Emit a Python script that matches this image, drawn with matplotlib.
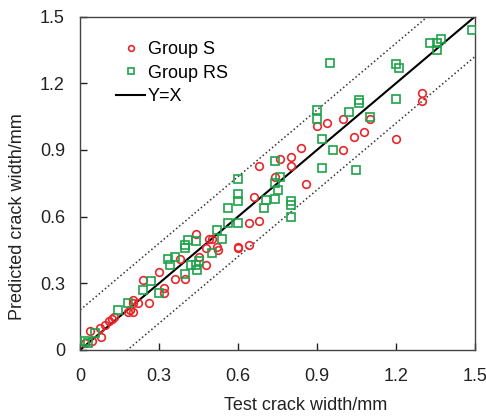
import matplotlib
matplotlib.use("Agg")
import matplotlib.pyplot as plt
import numpy as np

plt.rcParams['font.family'] = ['Liberation Sans', 'DejaVu Sans']

s_x = [0.02, 0.045, 0.038, 0.08, 0.076, 0.095, 0.11, 0.12, 0.13, 0.18, 0.19, 0.2, 0.2, 0.2, 0.22,
       0.24, 0.26, 0.3, 0.32, 0.32, 0.36, 0.38, 0.4, 0.44, 0.45, 0.48, 0.48, 0.49, 0.5, 0.52,
       0.525, 0.6, 0.6, 0.64, 0.64, 0.66, 0.68, 0.68, 0.74, 0.76, 0.8, 0.8, 0.84, 0.86, 0.9,
       0.94, 1.0, 1.0, 1.04, 1.08, 1.1, 1.2, 1.3, 1.3]
s_y = [0.03, 0.04, 0.083, 0.06, 0.1, 0.11, 0.13, 0.14, 0.15, 0.17, 0.18, 0.17, 0.225, 0.21, 0.21,
       0.315, 0.21, 0.35, 0.28, 0.255, 0.32, 0.41, 0.32, 0.52, 0.42, 0.38, 0.46, 0.5, 0.5, 0.465,
       0.45, 0.465, 0.46, 0.57, 0.47, 0.69, 0.58, 0.83, 0.78, 0.86, 0.87, 0.83, 0.91, 0.745, 1.01,
       1.02, 0.9, 1.04, 0.96, 0.98, 1.04, 0.95, 1.155, 1.12]

rs_x = [0.02, 0.03, 0.057, 0.145, 0.18, 0.24, 0.27, 0.3, 0.335, 0.34, 0.36, 0.4, 0.4, 0.41, 0.4,
        0.42, 0.44, 0.44, 0.445, 0.45, 0.5, 0.52, 0.54, 0.56, 0.56, 0.6, 0.6, 0.6, 0.6, 0.7,
        0.705, 0.74, 0.74, 0.74, 0.75, 0.76, 0.8, 0.8, 0.8, 0.9, 0.9, 0.92, 0.92, 0.95, 0.96,
        1.02, 1.05, 1.06, 1.06, 1.1, 1.2, 1.21, 1.2, 1.33, 1.355, 1.355, 1.37, 1.49]
rs_y = [0.04, 0.03, 0.075, 0.18, 0.21, 0.27, 0.31, 0.255, 0.41, 0.38, 0.42, 0.46, 0.47, 0.495, 0.34,
        0.38, 0.49, 0.38, 0.36, 0.4, 0.435, 0.54, 0.5, 0.64, 0.57, 0.57, 0.77, 0.7, 0.67, 0.64,
        0.675, 0.68, 0.75, 0.85, 0.72, 0.78, 0.6, 0.67, 0.65, 1.08, 1.04, 0.95, 0.82, 1.29, 0.9,
        1.07, 0.81, 1.125, 1.11, 1.05, 1.285, 1.27, 1.13, 1.38, 1.35, 1.38, 1.4, 1.44]

band = 0.18
ref_x = [0, 1.5]
ticks = [0, 0.3, 0.6, 0.9, 1.2, 1.5]
labels = ['0', '0.3', '0.6', '0.9', '1.2', '1.5']

fig = plt.figure(figsize=(4.86, 4.17), dpi=100)
ax = fig.add_axes([0.165, 0.161, 0.812, 0.799])

red = '#e8262b'
green = '#1ea34a'
ax.plot(s_x, s_y, 'o', mfc='none', mec=red, mew=1.2, ms=5.5, label='Group S', zorder=3)
ax.plot(rs_x, rs_y, 's', mfc='none', mec=green, mew=1.2, ms=5.5, label='Group RS', zorder=3)
ax.plot(ref_x, ref_x, '-', color='black', lw=1.5, label='Y=X', zorder=2)
xx = np.array(ref_x)
ax.plot(xx, xx + band, ':', color='#333333', lw=1.1, zorder=1)
ax.plot(xx, xx - band, ':', color='#333333', lw=1.1, zorder=1)

ax.set_xlim(0, 1.5)
ax.set_ylim(0, 1.5)
ax.set_xticks(ticks)
ax.set_xticklabels(labels)
ax.set_yticks(ticks)
ax.set_yticklabels(labels)
ax.tick_params(direction='in', length=5, width=1, labelsize=13, colors='#222222')
ax.tick_params(axis='x', pad=13)
ax.tick_params(axis='y', pad=11)
for sp in ax.spines.values():
    sp.set_linewidth(1.0)
    sp.set_color('#444444')
ax.set_xlabel('Test crack width/mm', fontsize=13, color='#222222')
ax.set_ylabel('Predicted crack width/mm', fontsize=13, color='#222222')
ax.xaxis.set_label_coords(0.571, -0.14)
ax.yaxis.set_label_coords(-0.137, 0.40)

leg = ax.legend(loc='upper left', frameon=False, fontsize=13, handlelength=1.6,
                bbox_to_anchor=(0.05, 0.975), labelspacing=0.35, handletextpad=0.15,
                markerscale=0.75)

fig.savefig('out.png', dpi=100)
